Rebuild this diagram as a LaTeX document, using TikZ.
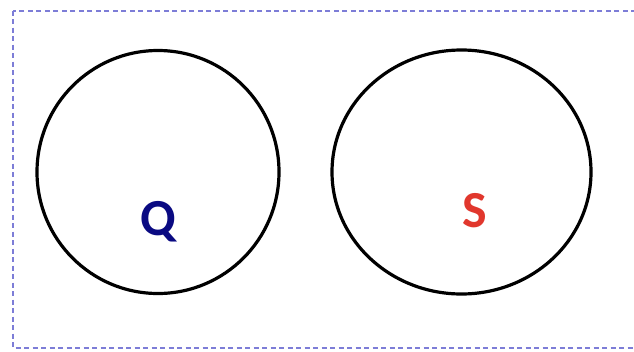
\documentclass[tikz,border=0pt]{standalone}
\usepackage{fontspec}
\setmainfont{Carlito}
\definecolor{borderblue}{RGB}{125,125,215}
\definecolor{qblue}{RGB}{10,10,130}
\definecolor{sred}{RGB}{225,55,45}
\tikzset{
  ring/.style={draw=black, line width=3.2pt, ellipse, inner sep=0pt},
  letter/.style={font=\fontsize{52}{52}\selectfont\bfseries, inner sep=0pt}
}
\usetikzlibrary{shapes.geometric}
\begin{document}
\begin{tikzpicture}[x=1pt,y=-1pt]
\useasboundingbox[fill=white] (0,0) rectangle (634,351);
\clip (0,0) rectangle (634,351);
\draw[borderblue, line width=2pt, dash pattern=on 5pt off 3.5pt] (13,10.5) rectangle (650,348);
\node[ring, minimum width=242pt, minimum height=243pt] (c1) at (158,172) {};
\node[ring, minimum width=259pt, minimum height=244pt] (c2) at (461.5,172) {};
\node[letter, text=qblue] (q) at (158,222) {Q};
\node[letter, text=sred] (s) at (475,211) {S};
\end{tikzpicture}
\end{document}
